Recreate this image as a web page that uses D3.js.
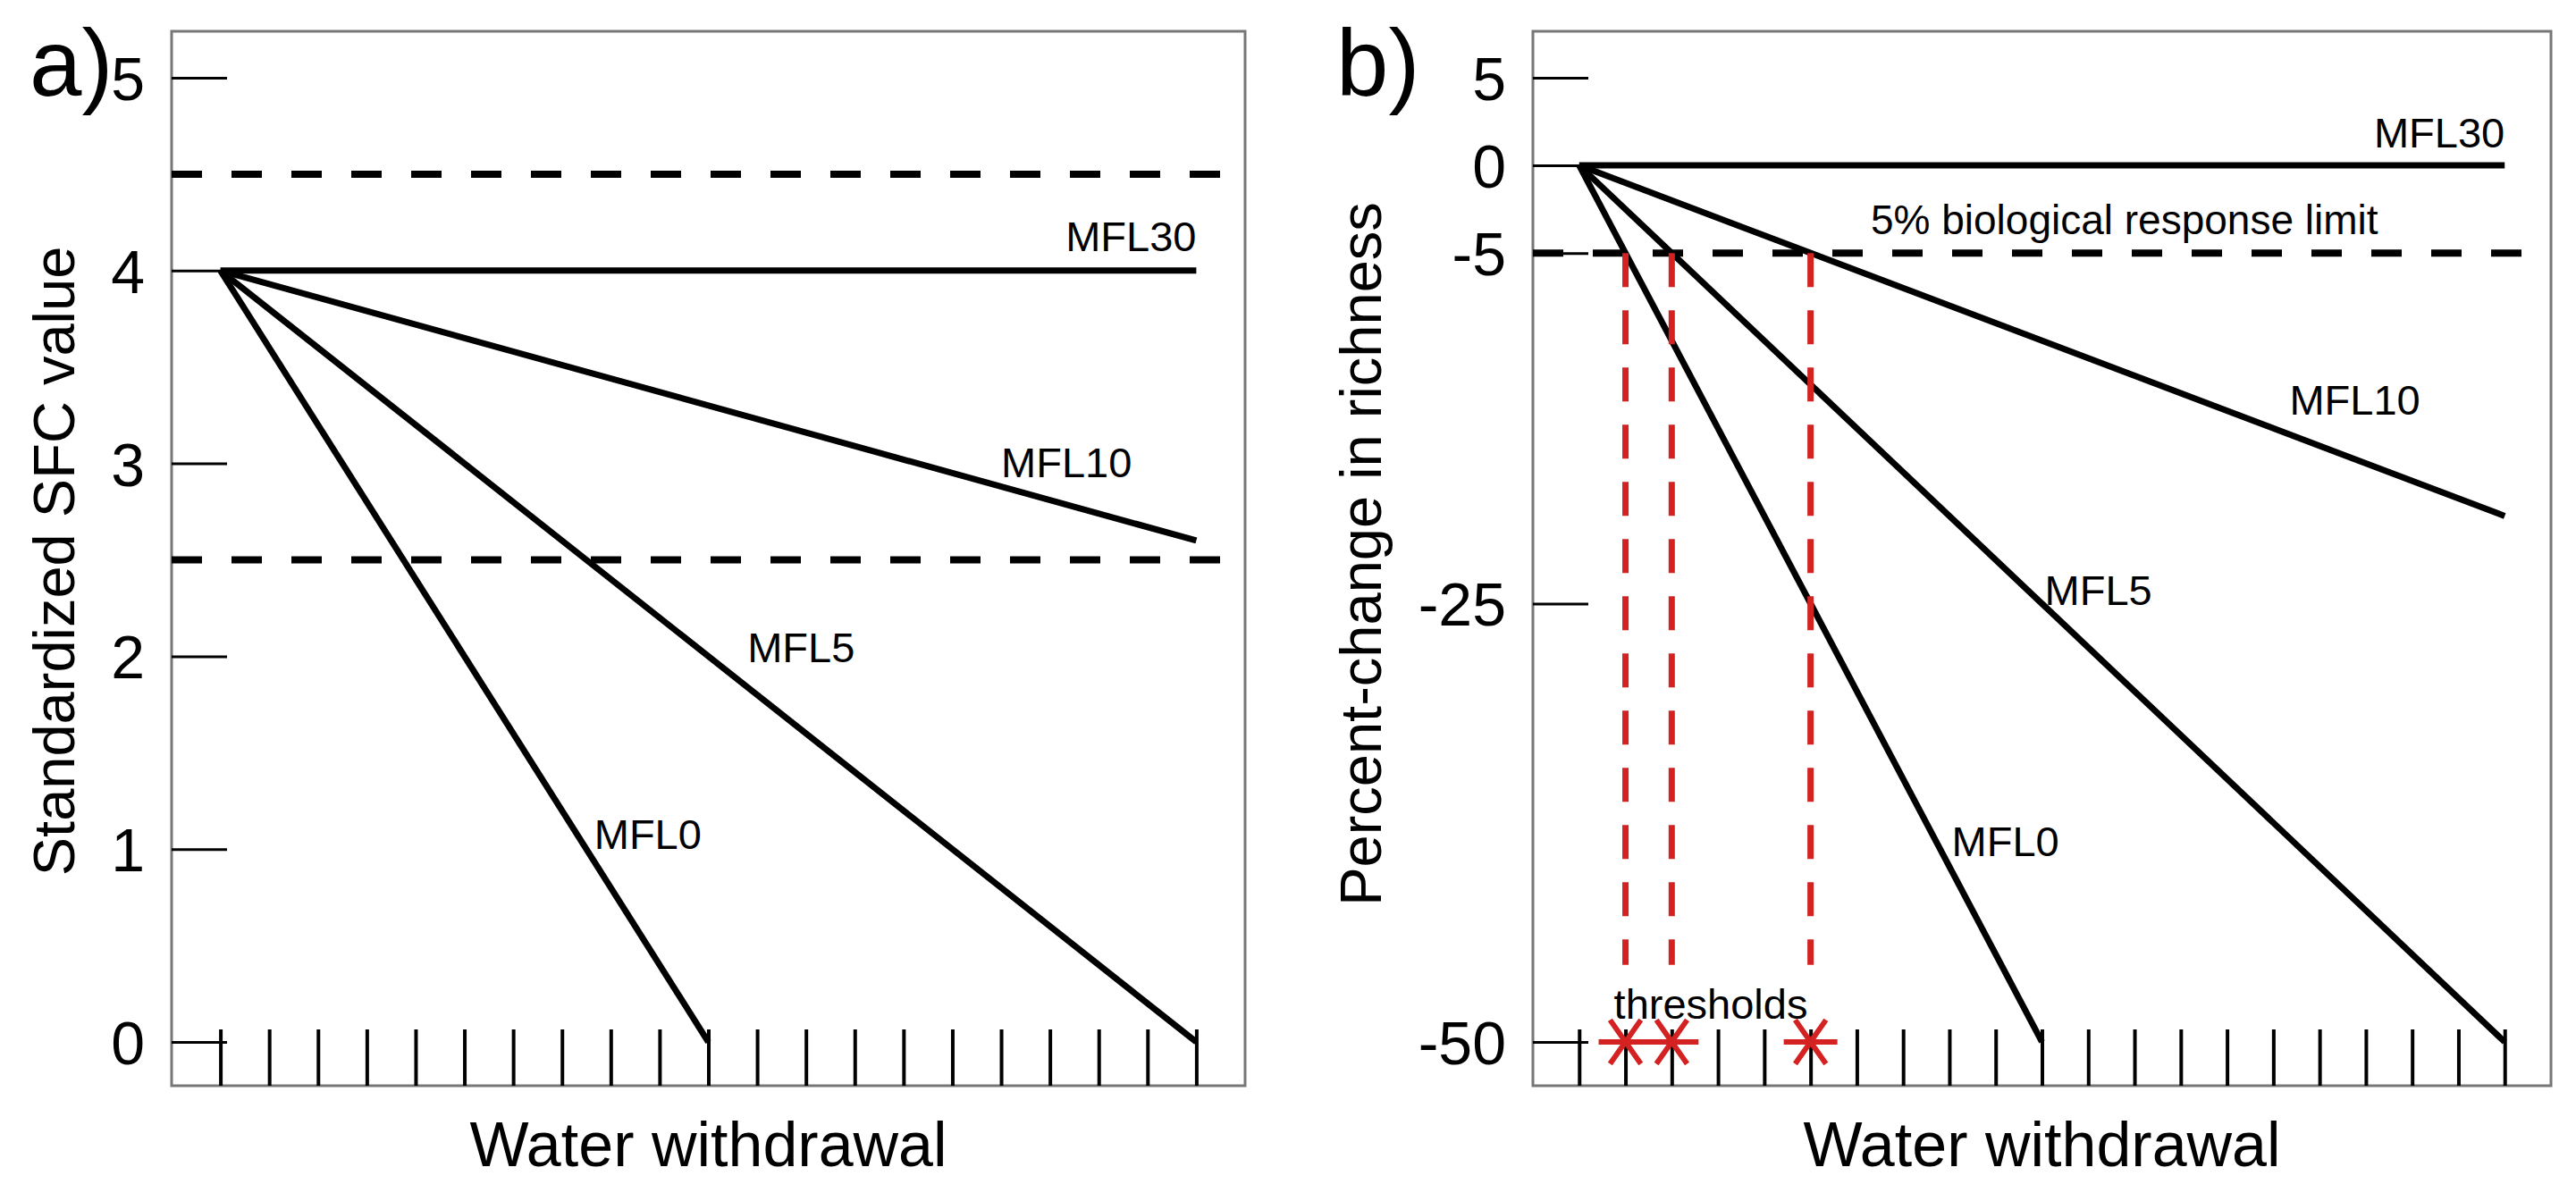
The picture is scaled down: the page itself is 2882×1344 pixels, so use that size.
<!DOCTYPE html>
<html>
<head>
<meta charset="utf-8">
<script src="https://cdn.jsdelivr.net/npm/d3@7"></script>
<style>
  body { margin: 0; background: #fff; }
  text { font-family: "Liberation Sans", Arial, sans-serif; fill: #000; }
</style>
</head>
<body>
<svg id="chart" width="2882" height="1344"></svg>
<script>
// Data
var seriesNames = ["MFL30", "MFL10", "MFL5", "MFL0"];
var withdrawalTicks = [0, 1, 2, 3, 4, 5, 6, 7, 8, 9, 10, 11, 12, 13, 14, 15, 16, 17, 18, 19, 20];
var lineStartX = [0, 0, 0, 0];
var lineEndX = [20, 20, 20, 10];
// panel a: standardized SFC value
var sfcStart = [4, 4, 4, 4];
var sfcEnd = [4, 2.6, 0, 0];
var sfcTicks = [0, 1, 2, 3, 4, 5];
var sfcBands = [4.5, 2.5];
// panel b: percent-change in richness
var richStart = [0, 0, 0, 0];
var richEnd = [0, -20, -50, -50];
var richTicks = [5, 0, -5, -25, -50];
var bioLimit = [-5];
var thresholdX = [1, 2, 5];
var thresholdFloor = -50;

var svg = d3.select("#chart");
var red = "#d42222";

function drawPanel(opts) {
    var x = d3.scaleLinear().domain([-1, 21]).range([opts.left, opts.right]);
    var y = d3.scaleLinear().domain(opts.yDomain).range([opts.bottom, opts.top]);
    var g = svg.append("g");

    // Frame
    g.append("rect")
        .attr("x", opts.left).attr("y", opts.top)
        .attr("width", opts.right - opts.left)
        .attr("height", opts.bottom - opts.top)
        .attr("fill", "none")
        .attr("stroke", "#777")
        .attr("stroke-width", 3);

    // Y axis, ticks pointing inward
    var yAxis = g.append("g")
        .attr("transform", "translate(" + opts.left + ",0)")
        .call(d3.axisLeft(y).tickValues(opts.yTicks).tickSize(-62).tickPadding(30).tickFormat(d3.format("d")));
    yAxis.select(".domain").remove();
    yAxis.selectAll("line").attr("stroke", "#000").attr("stroke-width", 3);
    yAxis.selectAll("text")
        .attr("font-size", 68)
        .attr("font-family", "Liberation Sans, Arial, sans-serif")
        .attr("fill", "#000")
        .attr("dy", "0.36em")
        .text(function (d) { return String(d).replace("\u2212", "-"); });

    // X axis, unlabeled ticks pointing upward
    var xAxis = g.append("g")
        .attr("transform", "translate(0," + opts.bottom + ")")
        .call(d3.axisBottom(x).tickValues(withdrawalTicks).tickSize(-63).tickFormat(""));
    xAxis.select(".domain").remove();
    xAxis.selectAll("line").attr("stroke", "#000").attr("stroke-width", 4);

    // Horizontal dashed reference lines
    g.selectAll("line.ref")
        .data(opts.refs)
        .enter()
        .append("line")
        .attr("class", "ref")
        .attr("x1", opts.left).attr("x2", opts.right)
        .attr("y1", function (d) { return y(d); })
        .attr("y2", function (d) { return y(d); })
        .attr("stroke", "#000")
        .attr("stroke-width", 8)
        .attr("stroke-dasharray", "34,33");

    // Series lines
    g.selectAll("line.series")
        .data(seriesNames)
        .enter()
        .append("line")
        .attr("class", "series")
        .attr("x1", function (d, i) { return x(lineStartX[i]); })
        .attr("y1", function (d, i) { return y(opts.start[i]); })
        .attr("x2", function (d, i) { return x(lineEndX[i]); })
        .attr("y2", function (d, i) { return y(opts.end[i]); })
        .attr("stroke", "#000")
        .attr("stroke-width", 7)
        .attr("stroke-linecap", "butt");

    // Series labels
    g.selectAll("text.series")
        .data(seriesNames)
        .enter()
        .append("text")
        .attr("class", "series")
        .attr("x", function (d, i) { return x(opts.labels[i][0]); })
        .attr("y", function (d, i) { return y(opts.labels[i][1]); })
        .attr("text-anchor", function (d, i) { return i === 0 ? "end" : "start"; })
        .attr("font-size", 47)
        .text(function (d) { return d; });

    // Axis titles and panel letter
    g.append("text")
        .attr("x", (opts.left + opts.right) / 2)
        .attr("y", 1305)
        .attr("text-anchor", "middle")
        .attr("font-size", 70)
        .text("Water withdrawal");
    g.append("text")
        .attr("transform", "translate(" + opts.titleX + "," + opts.titleY + ") rotate(-90)")
        .attr("text-anchor", "middle")
        .attr("font-size", 65)
        .text(opts.title);
    g.append("text")
        .attr("x", opts.letterX)
        .attr("y", 107)
        .attr("font-size", 105)
        .text(opts.letter);

    return { g: g, x: x, y: y };
}

var pa = drawPanel({
    left: 192, right: 1393, top: 35, bottom: 1215,
    yDomain: [-0.227, 5.241],
    yTicks: sfcTicks,
    refs: sfcBands,
    start: sfcStart, end: sfcEnd,
    labels: [[20, 4.1], [16.0, 2.93], [10.8, 1.97], [7.66, 1.0]],
    title: "Standardized SFC value", titleX: 83, titleY: 628,
    letter: "a)", letterX: 33
});

var pb = drawPanel({
    left: 1715, right: 2854, top: 35, bottom: 1215,
    yDomain: [-52.5, 7.65],
    yTicks: richTicks,
    refs: bioLimit,
    start: richStart, end: richEnd,
    labels: [[20, 1.0], [15.35, -14.2], [10.06, -25.1], [8.05, -39.4]],
    title: "Percent-change in richness", titleX: 1545, titleY: 620,
    letter: "b)", letterX: 1495
});

// Thresholds: where each line crosses the 5% response limit
pb.g.selectAll("line.thr")
    .data(thresholdX)
    .enter()
    .append("line")
    .attr("class", "thr")
    .attr("x1", function (d) { return pb.x(d); })
    .attr("x2", function (d) { return pb.x(d); })
    .attr("y1", pb.y(bioLimit[0]))
    .attr("y2", pb.y(-45.6))
    .attr("stroke", red)
    .attr("stroke-width", 7)
    .attr("stroke-dasharray", "38,26");

var starR = 30;
pb.g.selectAll("path.star")
    .data(thresholdX)
    .enter()
    .append("path")
    .attr("class", "star")
    .attr("d", function (d) {
        var cx = pb.x(d), cy = pb.y(thresholdFloor);
        var p = d3.path();
        [0, 55, 125].forEach(function (a) {
            var r = a * Math.PI / 180;
            p.moveTo(cx - starR * Math.cos(r), cy - starR * Math.sin(r));
            p.lineTo(cx + starR * Math.cos(r), cy + starR * Math.sin(r));
        });
        return p.toString();
    })
    .attr("fill", "none")
    .attr("stroke", red)
    .attr("stroke-width", 6);

pb.g.append("text")
    .attr("x", pb.x(0.75))
    .attr("y", 1140)
    .attr("font-size", 47)
    .text("thresholds");

pb.g.append("text")
    .attr("x", pb.x(6.3))
    .attr("y", pb.y(-3.9))
    .attr("font-size", 46)
    .text("5% biological response limit");
</script>
</body>
</html>
